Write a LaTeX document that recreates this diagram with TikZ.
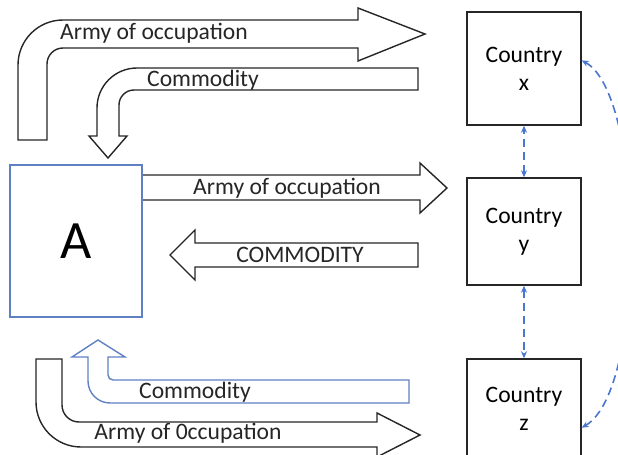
\documentclass[tikz,border=0pt]{standalone}
\usepackage{fontspec}
\setmainfont{Carlito}
\usetikzlibrary{arrows.meta}
\definecolor{boxblue}{RGB}{96,128,196}
\definecolor{linkblue}{RGB}{72,118,208}
\begin{document}
\begin{tikzpicture}[
  x=0.5pt, y=-0.5pt,
  font=\fontsize{11.8}{14}\selectfont,
  blockarrow/.style={draw=black!85, line width=0.7pt, fill=white, line join=miter},
  country/.style={rectangle, draw=black!85, line width=0.7pt, minimum width=57pt, align=center, inner sep=0pt},
  link/.style={draw=linkblue, line width=0.8pt, dash pattern=on 4pt off 2.5pt, {Stealth[length=3.5pt,width=3pt]}-{Stealth[length=3.5pt,width=3pt]}},
  lbl/.style={inner sep=0pt, text=black!85}
]
  \useasboundingbox (0,0) rectangle (618,455);

  % --- FLECHAS SUPERIORES ---
  \draw[blockarrow] (18,140) -- (18,65) arc[start angle=180, end angle=90, radius=22.5pt]
    -- (358,20) -- (358,8) -- (425,34) -- (358,61) -- (358,48) -- (63,48)
    arc[start angle=90, end angle=180, radius=8pt] -- (47,140) -- cycle;
  \draw[blockarrow] (418,68) -- (137,68) arc[start angle=90, end angle=180, radius=20pt]
    -- (97,136) -- (89,136) -- (108,158) -- (127,136) -- (119,136) -- (119,105)
    arc[start angle=180, end angle=90, radius=7.5pt] -- (418,90) -- cycle;
  \node[lbl] (armytop) at (154,33) {Army of occupation};
  \node[lbl] (comtop) at (203,80) {Commodity};

  % --- FLECHAS CENTRALES ---
  \draw[blockarrow] (142,175) -- (420,175) -- (420,163) -- (447,188) -- (420,213) -- (420,200) -- (142,200);
  \draw[blockarrow] (418,243) -- (195,243) -- (195,230) -- (170,255) -- (195,280) -- (195,267) -- (418,267) -- cycle;
  \node[lbl] (armymid) at (287,188) {Army of occupation};
  \node[lbl] (commid) at (300,255) {COMMODITY};

  % --- FLECHAS INFERIORES ---
  \draw[blockarrow, draw=boxblue] (409,380) -- (113,380) arc[start angle=270, end angle=180, radius=2.5pt]
    -- (108,357) -- (125,357) -- (98,340) -- (72,357) -- (88,357) -- (88,381)
    arc[start angle=180, end angle=270, radius=11pt] -- (409,403) -- cycle;
  \draw[blockarrow] (36,359) -- (62,359) -- (62,405) arc[start angle=180, end angle=270, radius=8.5pt]
    -- (377,422) -- (377,413) -- (420,435) -- (377,457) -- (377,447) -- (81,447)
    arc[start angle=270, end angle=180, radius=22.5pt] -- cycle;
  \node[lbl] (combot) at (195,392) {Commodity};
  \node[lbl] (armybot) at (188,433) {Army of 0ccupation};

  % Caja A
  \node[rectangle, draw=boxblue, line width=0.7pt, minimum width=66pt, minimum height=76pt, inner sep=0pt,
        font=\fontsize{27}{30}\selectfont] (A) at (76,241) {A};

  % --- PAÍSES ---
  \node[country, minimum height=56.5pt] (cx) at (524,68.5) {Country\\x};
  \node[country, minimum height=53.5pt] (cy) at (524,231.5) {Country\\y};
  \node[country, minimum height=50pt] (cz) at (524,409) {Country\\z};

  \draw[link] (cy.north) -- (cx.south);
  \draw[link] (cy.south) -- (cz.north);
  \draw[link] (cx.8) .. controls (645,95) and (647,390) .. (cz.-18);
\end{tikzpicture}
\end{document}
